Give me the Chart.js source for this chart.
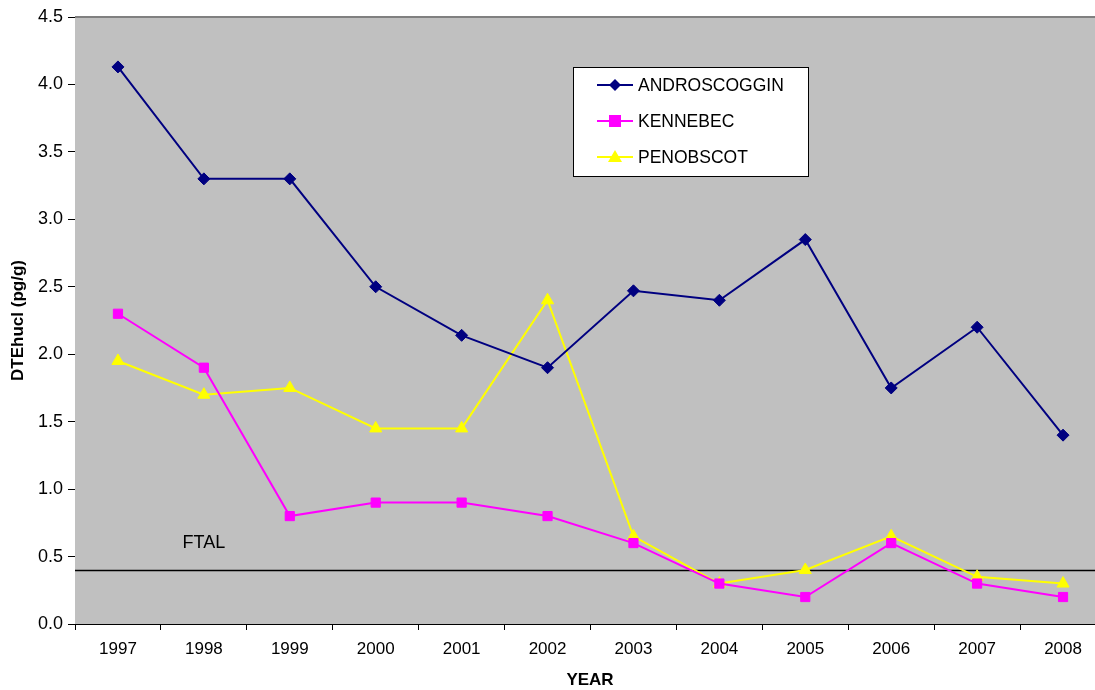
<!DOCTYPE html>
<html>
<head>
<meta charset="utf-8">
<script src="https://cdn.jsdelivr.net/npm/chart.js@4"></script>
<style>
  html, body { margin: 0; padding: 0; background: #fff; overflow: hidden; }
  #wrap { width: 1095px; height: 690px; position: relative; overflow: hidden; }
  #c { position: absolute; left: 0; top: 0; }
</style>
</head>
<body>
<div id="wrap"><canvas id="c" width="1106" height="690"></canvas></div>
<script>
// Years sampled
const years = ['1997','1998','1999','2000','2001','2002','2003','2004','2005','2006','2007','2008'];

// DTEhucl per river (pg/g)
const androscoggin = [4.13, 3.30, 3.30, 2.50, 2.14, 1.90, 2.47, 2.40, 2.85, 1.75, 2.20, 1.40];
const kennebec     = [2.30, 1.90, 0.80, 0.90, 0.90, 0.80, 0.60, 0.30, 0.20, 0.60, 0.30, 0.20];
const penobscot    = [1.95, 1.70, 1.75, 1.45, 1.45, 2.40, 0.65, 0.30, 0.40, 0.65, 0.35, 0.30];

// Guideline level
const ftal = 0.4;
const ftalLabel = 'FTAL';

// Axis range
const yMin = 0, yMax = 4.5, yStep = 0.5;

const FONT = '"Liberation Sans", Arial, sans-serif';

const plotFrame = {
  id: 'plotFrame',
  beforeDatasetsDraw(chart) {
    const { ctx, chartArea: a, scales } = chart;
    ctx.save();
    ctx.fillStyle = '#C0C0C0';
    ctx.fillRect(a.left, a.top, a.right - a.left, a.bottom - a.top);
    ctx.strokeStyle = '#808080';
    ctx.lineWidth = 2;
    ctx.beginPath();
    ctx.moveTo(a.left, a.top);
    ctx.lineTo(a.right, a.top);
    ctx.stroke();
    // guideline
    const y = Math.round(scales.y.getPixelForValue(ftal)) + 0.5;
    ctx.strokeStyle = '#000';
    ctx.lineWidth = 1.3;
    ctx.beginPath();
    ctx.moveTo(a.left, y);
    ctx.lineTo(a.right, y);
    ctx.stroke();
    ctx.fillStyle = '#000';
    ctx.font = '18px ' + FONT;
    ctx.textAlign = 'center';
    ctx.textBaseline = 'middle';
    ctx.fillText(ftalLabel, scales.x.getPixelForValue(1), y - 27);
    ctx.restore();
  },
  afterDraw(chart) {
    const { ctx, chartArea: a } = chart;
    ctx.save();
    // axis titles (x title centred in the visible 1095px frame)
    ctx.fillStyle = '#000';
    ctx.font = 'bold 17px ' + FONT;
    ctx.textAlign = 'center';
    ctx.textBaseline = 'middle';
    ctx.fillText('YEAR', 590, 680);
    ctx.translate(18, (a.top + a.bottom) / 2);
    ctx.rotate(-Math.PI / 2);
    ctx.fillText('DTEhucl (pg/g)', 0, 0);
    ctx.restore();

    // legend box
    ctx.save();
    const bx = 573.5, by = 67.5, bw = 235, bh = 109;
    ctx.fillStyle = '#fff';
    ctx.fillRect(bx, by, bw, bh);
    ctx.strokeStyle = '#000';
    ctx.lineWidth = 1;
    ctx.strokeRect(bx, by, bw, bh);
    const rows = [85, 121, 157];
    chart.data.datasets.forEach((ds, i) => {
      const y = rows[i];
      ctx.strokeStyle = ds.borderColor;
      ctx.lineWidth = 2;
      ctx.beginPath();
      ctx.moveTo(597, y);
      ctx.lineTo(633, y);
      ctx.stroke();
      ctx.fillStyle = ds.pointBackgroundColor;
      ctx.beginPath();
      const mx = 615;
      if (ds.pointStyle === 'rectRot') {
        ctx.moveTo(mx, y - 6); ctx.lineTo(mx + 6, y); ctx.lineTo(mx, y + 6); ctx.lineTo(mx - 6, y);
      } else if (ds.pointStyle === 'rect') {
        ctx.rect(mx - 6, y - 6, 12, 12);
      } else {
        ctx.moveTo(mx, y - 7); ctx.lineTo(mx + 7, y + 5); ctx.lineTo(mx - 7, y + 5);
      }
      ctx.closePath();
      ctx.fill();
      ctx.fillStyle = '#000';
      ctx.font = '17.5px ' + FONT;
      ctx.textAlign = 'left';
      ctx.textBaseline = 'middle';
      ctx.fillText(ds.label, 638, y + 1);
    });
    ctx.restore();
  }
};

new Chart(document.getElementById('c'), {
  type: 'line',
  data: {
    labels: years,
    datasets: [
      { label: 'ANDROSCOGGIN', data: androscoggin, borderColor: '#000080', backgroundColor: '#000080',
        pointBackgroundColor: '#000080', pointBorderColor: '#000080', pointStyle: 'rectRot', pointRadius: 6, borderWidth: 2, pointBorderWidth: 1 },
      { label: 'KENNEBEC', data: kennebec, borderColor: '#FF00FF', backgroundColor: '#FF00FF',
        pointBackgroundColor: '#FF00FF', pointBorderColor: '#FF00FF', pointStyle: 'rect', pointRadius: 6.5, borderWidth: 2, pointBorderWidth: 1 },
      { label: 'PENOBSCOT', data: penobscot, borderColor: '#FFFF00', backgroundColor: '#FFFF00',
        pointBackgroundColor: '#FFFF00', pointBorderColor: '#FFFF00', pointStyle: 'triangle', pointRadius: 7, borderWidth: 2, pointBorderWidth: 1 }
    ]
  },
  options: {
    responsive: false,
    animation: false,
    layout: { autoPadding: false, padding: { top: 17, right: 0, left: 0, bottom: 0 } },
    plugins: { legend: { display: false }, tooltip: { enabled: false } },
    scales: {
      x: {
        offset: true,
        grid: { offset: true, drawOnChartArea: false, drawTicks: true, tickLength: 6, color: '#000' },
        border: { color: '#000', width: 1 },
        ticks: { color: '#000', font: { family: FONT, size: 17 }, padding: 9, maxRotation: 0 },
        afterFit(s) { s.height = 66; s.paddingLeft = 0; s.paddingRight = 0; }
      },
      y: {
        min: yMin, max: yMax,
        grid: { drawOnChartArea: false, drawTicks: true, tickLength: 7, color: '#000' },
        border: { color: '#000', width: 1 },
        ticks: { stepSize: yStep, color: '#000', font: { family: FONT, size: 18 }, padding: 5,
                 callback: v => Number(v).toFixed(1) },
        afterFit(s) { s.width = 75; }
      }
    }
  },
  plugins: [plotFrame]
});
</script>
</body>
</html>
